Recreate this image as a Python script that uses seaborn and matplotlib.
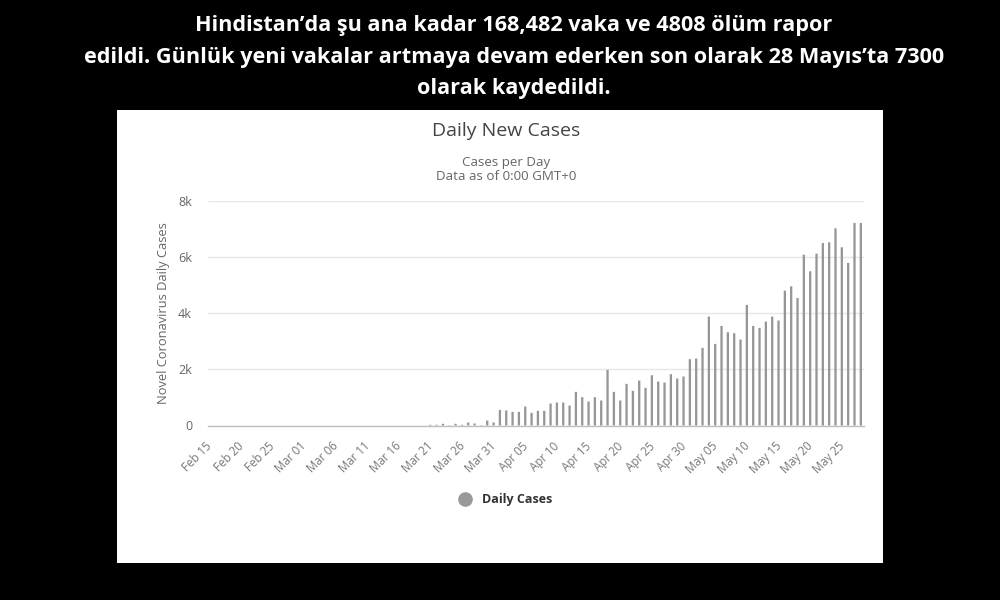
import matplotlib
matplotlib.use("Agg")
import matplotlib.pyplot as plt
from matplotlib.lines import Line2D
from matplotlib.patches import Rectangle
from matplotlib.transforms import ScaledTranslation
import pandas as pd
import seaborn as sns

title_lines = [
    "Hindistan’da şu ana kadar 168,482 vaka ve 4808 ölüm rapor",
    "edildi. Günlük yeni vakalar artmaya devam ederken son olarak 28 Mayıs’ta 7300",
    "olarak kaydedildi.",
]
dates = pd.date_range("2020-02-15", periods=103).strftime("%b %d").tolist()
daily_cases = [0] * 34 + [
    25, 25, 60, 10, 60, 25, 107, 71, 10, 178, 107,
    558, 534, 487, 487, 677, 451, 522, 522, 783, 819, 819, 712, 1199, 1009, 855,
    1009, 890, 1982, 1199, 890, 1484, 1234,
    1602, 1341, 1792, 1567, 1531, 1828, 1674, 1745, 2362, 2386, 2766, 3881, 2908,
    3549, 3323, 3288, 3062, 4297, 3549, 3478, 3703, 3881, 3739, 4807, 4961, 4546,
    6089, 5496, 6125, 6504, 6528, 7027, 6350, 5792, 7217, 7217,
]
y_ticks = [0, 2000, 4000, 6000, 8000]
y_labels = ["0", "2k", "4k", "6k", "8k"]
df = pd.DataFrame({"date": dates, "cases": daily_cases})

W, H = 1000, 600
sns.set_theme(style="white")
plt.rcParams["font.family"] = ["Open Sans", "DejaVu Sans"]
fig = plt.figure(figsize=(10, 6), dpi=100, facecolor="black")
fig.add_artist(Rectangle((117 / W, 1 - 563 / H), 766 / W, 453 / H, zorder=-1,
                         transform=fig.transFigure, facecolor="white", edgecolor="none"))

ax = fig.add_axes([208 / W, 1 - 425.5 / H, 656 / W, 224.5 / H])
ax.patch.set_alpha(0)
sns.barplot(data=df, x="date", y="cases", color="#969696", saturation=1,
            width=0.36, linewidth=0, ax=ax, zorder=3)
for bar in ax.patches:
    bar.set_snap(False)
ax.set_xlim(-1.1, 102.5)
ax.set_ylim(0, 8000)
ax.set_xlabel("")
ax.set_ylabel("Novel Coronavirus Daily Cases", fontsize=9.3, color="#666666", labelpad=6)
ax.set_yticks(y_ticks, y_labels, fontsize=9, color="#666666")
ax.set_xticks(range(0, len(dates), 5), dates[::5], rotation=45, ha="right",
              rotation_mode="anchor", fontsize=8.3, color="#777777")
ax.tick_params(axis="y", length=0, pad=11.5)
ax.tick_params(axis="x", length=0, pad=8)
offset = ScaledTranslation(-10 / 100, -3 / 100, fig.dpi_scale_trans)
for label in ax.get_xticklabels():
    label.set_transform(label.get_transform() + offset)
ax.grid(axis="y", color="#e6e6e6", linewidth=1, zorder=0)
ax.set_axisbelow(True)
for side in ["top", "right", "left"]:
    ax.spines[side].set_visible(False)
ax.spines["bottom"].set_color("#c0c0c0")
ax.spines["bottom"].set_linewidth(1)

fig.text(506 / W, 1 - 131 / H, "Daily New Cases", ha="center", va="center",
         fontsize=14, color="#444444")
fig.text(506 / W, 1 - 169.5 / H, "Cases per Day\nData as of 0:00 GMT+0", ha="center",
         va="center", fontsize=9.6, color="#666666", linespacing=1.15)

for text, y in zip(title_lines, [25, 57, 88]):
    fig.text(514 / W, 1 - y / H, text, ha="center", va="center", color="white",
             fontsize=15.6, fontweight="bold")

fig.legend(handles=[Line2D([], [], linestyle="none", marker="o", markersize=9.5,
                           color="#999999", label="Daily Cases")],
           loc="center", bbox_to_anchor=(502.5 / W, 1 - 500 / H), frameon=False,
           handletextpad=0.3, prop={"size": 9, "weight": "bold"}, labelcolor="#333333")

fig.savefig("out.png", dpi=100, facecolor="black")
